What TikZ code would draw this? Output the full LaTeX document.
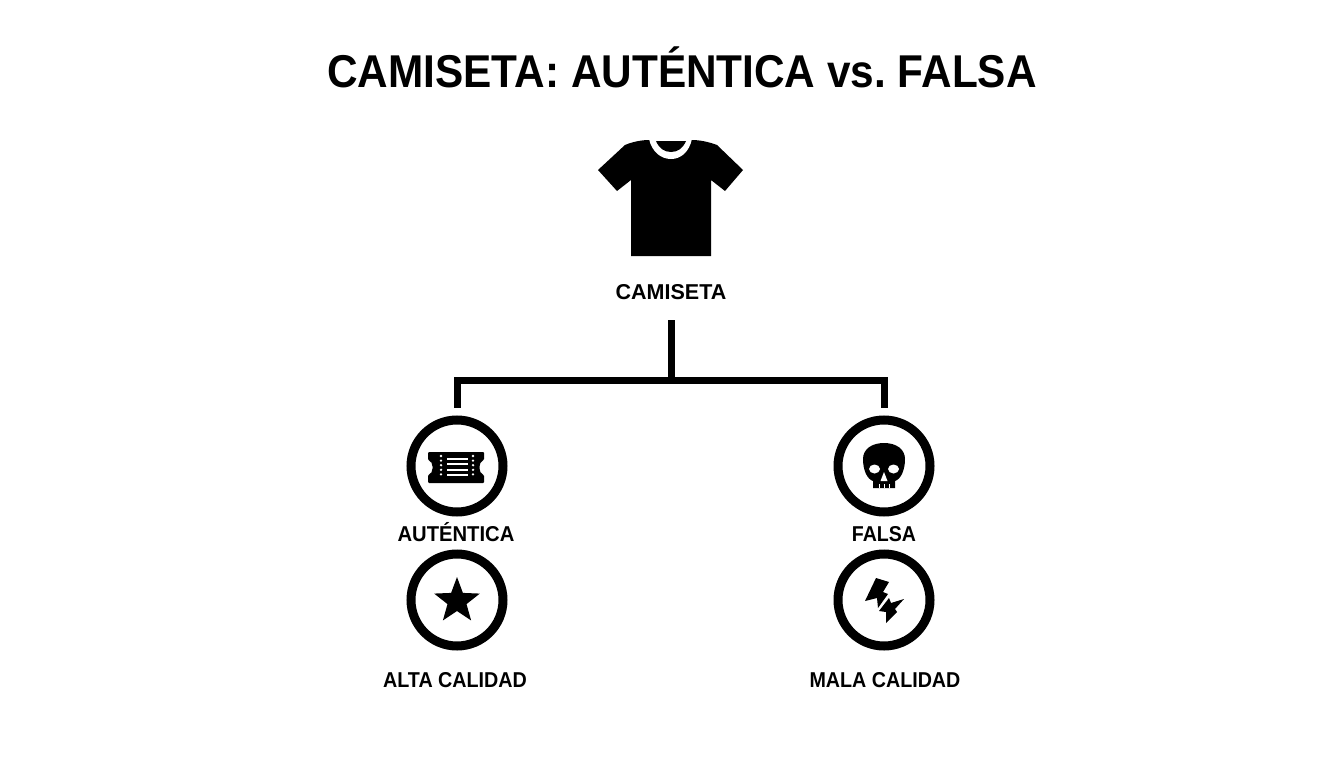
\documentclass[tikz,border=0pt]{standalone}
\usepackage{fontspec}
\setmainfont{Liberation Sans}
\usetikzlibrary{shapes.geometric}

\begin{document}
\begin{tikzpicture}[
		x=1pt,y=-1pt,
		titletext/.style={font=\fontsize{46}{50}\selectfont\bfseries\frenchspacing,inner sep=0pt,anchor=base,xscale=0.92},
		labeltext/.style={font=\fontsize{21.5}{24}\selectfont\bfseries,inner sep=0pt,anchor=base},
		ring/.style={draw,circle,line width=9pt,minimum size=92pt,inner sep=0pt,fill=white},
		link/.style={draw,line width=7pt,line join=miter}
		]
		\useasboundingbox (0,0) rectangle (1344,768);

		\node[titletext] (title) at (682,87.5) {CAMISETA: AUTÉNTICA vs. FALSA};

		% shirt
		\fill (598,170) -- (617,191) -- (631,180) -- (631,256) -- (711,256) -- (711,180) -- (725,191) -- (743,170)
			-- (717,145) .. controls (709,142) and (700,140) .. (692,140) -- (649,140)
			.. controls (641,140) and (632,142) .. (625,145) -- cycle;
		\fill[white] (649,139) .. controls (652,152) and (661,159) .. (671,159) .. controls (681,159) and (689,152) .. (692,139) -- cycle;
		\fill (656,141) .. controls (659,148) and (664,152) .. (671,152) .. controls (678,152) and (683,148) .. (686,141) -- cycle;

		\node[labeltext] (camiseta) at (671,299) {CAMISETA};
		\node[ring] (autentica) at (457,466) {};
		\node[ring] (falsa) at (884,466) {};
		\node[ring] (alta) at (457,600) {};
		\node[ring] (mala) at (884,600) {};
		\node[labeltext,xscale=0.94] (autenticatext) at (456,541) {AUTÉNTICA};
		\node[labeltext,xscale=0.91] (falsatext) at (884,541) {FALSA};
		\node[labeltext,xscale=0.917] (altatext) at (455,687) {ALTA CALIDAD};
		\node[labeltext,xscale=0.915] (malatext) at (885,687) {MALA CALIDAD};

		\coordinate (trunk) at (671,320);
		\coordinate (bus) at (671,380);
		\draw[link] (trunk) -- (bus);
		\draw[link,shorten <=8pt,shorten >=8pt] (autentica) |- (bus) -| (falsa);

		% ticket
		\fill[rounded corners=1pt] (428,452) -- (484,452) -- (484,460)
			.. controls (481,461) and (479.5,464) .. (479.5,467.5) .. controls (479.5,471) and (481,474) .. (484,475)
			-- (484,483) -- (428,483) -- (428,475)
			.. controls (431,474) and (432.5,471) .. (432.5,467.5) .. controls (432.5,464) and (431,461) .. (428,460) -- cycle;
		\foreach \y in {456,460.6,...,479} {
			\fill[white] (441,\y) circle (1.3pt);
			\fill[white] (473,\y) circle (1.3pt);
		}
		\foreach \y in {458.5,464,469.5,475} {
			\fill[white] (447,\y-1) rectangle (468,\y+1);
		}

		% skull
		\fill (873,481) .. controls (867,479) and (863,470) .. (863,459) .. controls (863,449) and (872,443) .. (884,443)
			.. controls (896,443) and (905,449) .. (905,459) .. controls (905,470) and (901,479) .. (895,481)
			-- (895,488) -- (873,488) -- cycle;
		\fill[white] (874.5,469) ellipse (5.5pt and 4.5pt);
		\fill[white] (893.5,469) ellipse (5.5pt and 4.5pt);
		\fill[white] (884,472) -- (887.5,481) -- (880.5,481) -- cycle;
		\foreach \x in {879,884,889} {
			\fill[white] (\x-0.5,484) rectangle (\x+0.5,488);
		}

		% star
		\node[star,star points=5,star point ratio=2.4,fill,inner sep=0pt,minimum size=48pt] (starmark) at (457,601) {};

		% bolts
		\fill (876,578) -- (889,582) -- (883,592) -- (888,594) -- (878,608) -- (877,598) -- (865,601) -- cycle;
		\fill (889,598) -- (891,603) -- (904,599) -- (895,609) -- (897,612) -- (886,623) -- (886,612) -- (879,611) -- cycle;
	\end{tikzpicture}
\end{document}
